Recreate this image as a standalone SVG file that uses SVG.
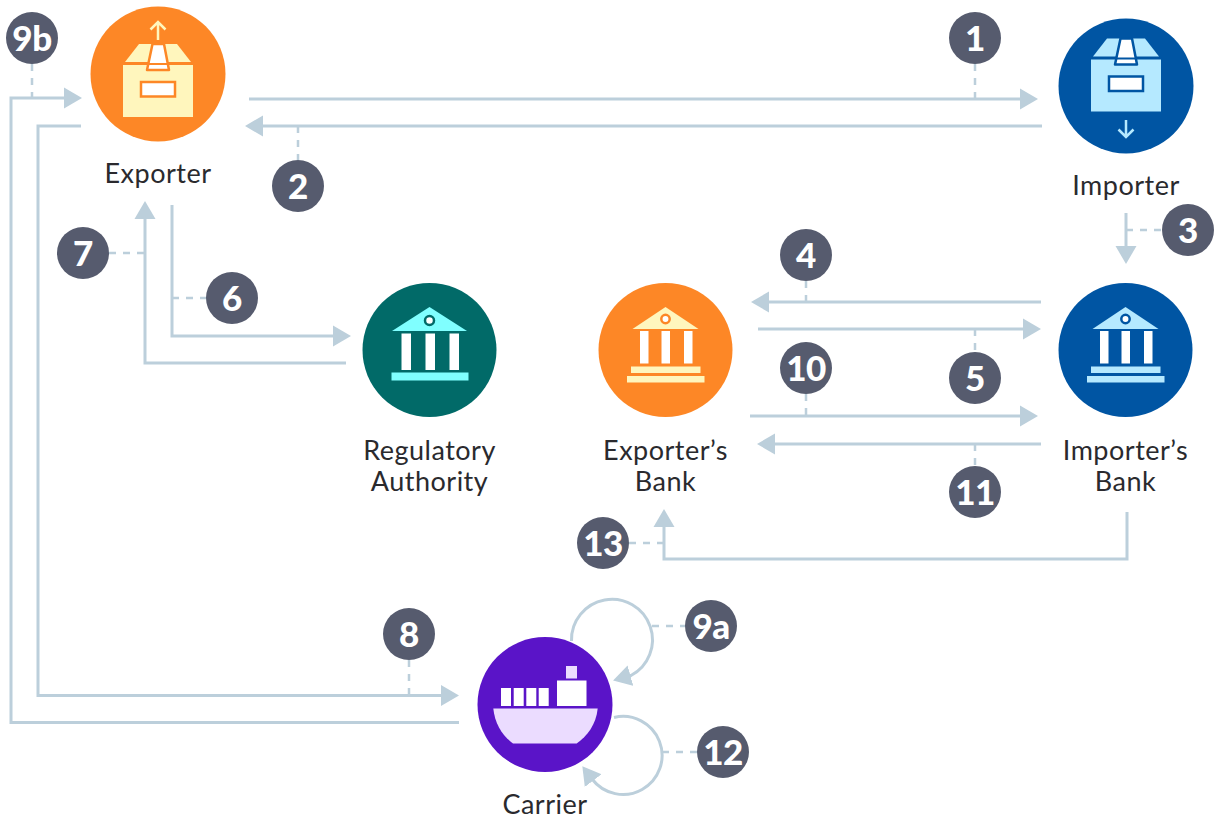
<svg xmlns="http://www.w3.org/2000/svg" width="1219" height="820" viewBox="0 0 1219 820">
<style>
.lbl{font-family:"Lato","Noto Sans",sans-serif;font-size:27px;letter-spacing:.5px;fill:#2a2a2e;text-anchor:middle}
.num{font-family:"Lato","Noto Sans",sans-serif;font-size:35px;font-weight:900;letter-spacing:-.5px;fill:#fff;text-anchor:middle}
.bad{fill:#565b6e}
.c{fill:none;stroke:#bccfdb;stroke-width:3;marker-end:url(#a)}
.d{fill:none;stroke:#bccfdb;stroke-width:2.5;stroke-dasharray:7 7}
</style>
<defs>
<marker id="a" markerUnits="userSpaceOnUse" markerWidth="18" markerHeight="22" viewBox="0 0 18 22" refX="2" refY="11" orient="auto"><path d="M0 0.5L18 11L0 21.500Z" fill="#bccfdb"/></marker>
<g id="box">
<rect x="-35" y="0" width="70" height="52" fill="var(--l)"/>
<path d="M-19-21H19L33-3H-33Z" fill="var(--l)"/>
<path d="M-5.500-21H6L11 5H-11Z" fill="#fff" stroke="var(--b)" stroke-width="2.500" stroke-linejoin="round"/>
<path d="M-11-1H11" stroke="var(--b)" stroke-width="2"/>
<rect x="-17" y="17" width="34" height="14.500" fill="#fff" stroke="var(--b)" stroke-width="2.500"/>
</g>
<g id="bank">
<path d="M0-43L33-21H-33Z" fill="var(--l)"/>
<circle cx="0" cy="-31" r="4.200" fill="#fff" stroke="var(--b)" stroke-width="2.500"/>
<rect x="-25.500" y="-19" width="8.500" height="32.500" fill="#fff"/>
<rect x="-4" y="-19" width="8.500" height="32.500" fill="#fff"/>
<rect x="18.500" y="-19" width="8.500" height="32.500" fill="#fff"/>
<rect x="-34.500" y="16.500" width="69.500" height="6.500" fill="var(--l)"/>
<rect x="-38.500" y="26" width="77.500" height="6.500" fill="var(--l)"/>
</g>
</defs>
<g id="connectors">
<path class="c" d="M249 99H1022"/>
<path class="c" d="M1042 126H261"/>
<path class="c" d="M1126 213V248"/>
<path class="c" d="M1041 302H767"/>
<path class="c" d="M758 329H1025"/>
<path class="c" d="M172 205V336H335"/>
<path class="c" d="M346 363H145V217"/>
<path class="c" d="M81 126H38V695.500H443"/>
<path class="c" d="M459 722.500H11V98H66"/>
<path class="c" d="M750 416H1022"/>
<path class="c" d="M1041 444H773"/>
<path class="c" d="M1127 512V559H664V525"/>
<path class="c" d="M571.500 641A40.500 40.500 0 1 1 631 675.500L628.500 676.200"/>
<path class="c" d="M614 717.500A39 39 0 1 1 592 779"/>
<path class="d" d="M975 64V99"/>
<path class="d" d="M298 126V160"/>
<path class="d" d="M1126 230H1162"/>
<path class="d" d="M806 281V302"/>
<path class="d" d="M975 329V352"/>
<path class="d" d="M172 298H206"/>
<path class="d" d="M109 253H145"/>
<path class="d" d="M409 660V695"/>
<path class="d" d="M652 626H685"/>
<path class="d" d="M32 64V98"/>
<path class="d" d="M806 394V416"/>
<path class="d" d="M975 444V466"/>
<path class="d" d="M662 752H697"/>
<path class="d" d="M629 543H664"/>
</g>
<g id="exporter">
<circle cx="158" cy="74" r="67.500" fill="#fd8726"/>
<use href="#box" x="158" y="65" style="--l:#fff6bd;--b:#fd8726"/>
<path d="M158 40V22M150.500 29.500L158 22L165.500 29.500" fill="none" stroke="#fff6bd" stroke-width="2.500"/>
<text class="lbl" x="158" y="183">Exporter</text>
</g>
<g id="importer">
<circle cx="1126" cy="86" r="67.500" fill="#0055a3"/>
<use href="#box" x="1126" y="59.500" style="--l:#b5e9ff;--b:#0055a3"/>
<path d="M1126 120V137M1118.500 129.500L1126 137L1133.500 129.500" fill="none" stroke="#b5e9ff" stroke-width="2.500"/>
<text class="lbl" x="1126" y="195">Importer</text>
</g>
<g id="regulatory-authority">
<circle cx="429.500" cy="350" r="67" fill="#016a68"/>
<path d="M429.500 307L467 331H392Z" fill="#80ffff"/>
<circle cx="429.500" cy="320.500" r="4.500" fill="#fff" stroke="#016a68" stroke-width="2.500"/>
<rect x="401.500" y="333.500" width="9.500" height="36.500" fill="#fff"/>
<rect x="425.500" y="333.500" width="9.500" height="36.500" fill="#fff"/>
<rect x="449.500" y="333.500" width="9.500" height="36.500" fill="#fff"/>
<rect x="391.500" y="372.500" width="77" height="8" fill="#80ffff"/>
<text class="lbl" x="429.500" y="460">Regulatory</text>
<text class="lbl" x="429.500" y="491">Authority</text>
</g>
<g id="exporters-bank">
<circle cx="665.500" cy="350" r="67" fill="#fd8726"/>
<use href="#bank" x="665.500" y="350" style="--l:#fff6bd;--b:#fd8726"/>
<text class="lbl" x="665.500" y="460">Exporter’s</text>
<text class="lbl" x="665.500" y="491">Bank</text>
</g>
<g id="importers-bank">
<circle cx="1125.500" cy="350" r="67" fill="#0055a3"/>
<use href="#bank" x="1125.500" y="350" style="--l:#b5e9ff;--b:#0055a3"/>
<text class="lbl" x="1125.500" y="460">Importer’s</text>
<text class="lbl" x="1125.500" y="491">Bank</text>
</g>
<g id="carrier">
<circle cx="545" cy="704.500" r="67.500" fill="#5a14c8"/>
<rect x="501" y="688" width="10" height="18" fill="#fff"/>
<rect x="513.700" y="688" width="10" height="18" fill="#fff"/>
<rect x="526.300" y="688" width="10" height="18" fill="#fff"/>
<rect x="538.700" y="688" width="10" height="18" fill="#fff"/>
<rect x="557" y="680.500" width="29.500" height="25.500" fill="#fff"/>
<rect x="566" y="666" width="11" height="12.500" fill="#ebdcff"/>
<path d="M493.300 708.500H597.700C596 725 587 736 576.700 743.500H513C503 736 495 725 493.300 708.500Z" fill="#ebdcff"/>
<text class="lbl" x="545" y="813.500">Carrier</text>
</g>
<g id="b1"><circle class="bad" cx="975" cy="38" r="26"/><text class="num" x="975" y="50.500">1</text></g>
<g id="b2"><circle class="bad" cx="298" cy="186" r="26"/><text class="num" x="298" y="198.500">2</text></g>
<g id="b3"><circle class="bad" cx="1188" cy="230" r="26"/><text class="num" x="1188" y="242.500">3</text></g>
<g id="b4"><circle class="bad" cx="806" cy="255" r="26"/><text class="num" x="806" y="267.500">4</text></g>
<g id="b5"><circle class="bad" cx="975" cy="378" r="26"/><text class="num" x="975" y="390.500">5</text></g>
<g id="b6"><circle class="bad" cx="232" cy="298" r="26"/><text class="num" x="232" y="310.500">6</text></g>
<g id="b7"><circle class="bad" cx="83" cy="253" r="26"/><text class="num" x="83" y="265.500">7</text></g>
<g id="b8"><circle class="bad" cx="409" cy="634" r="26"/><text class="num" x="409" y="646.500">8</text></g>
<g id="b9a"><circle class="bad" cx="711" cy="626" r="26"/><text class="num" x="711" y="638.500">9a</text></g>
<g id="b9b"><circle class="bad" cx="32" cy="38" r="26"/><text class="num" x="32" y="50.500">9b</text></g>
<g id="b10"><circle class="bad" cx="806" cy="368" r="26"/><text class="num" x="806" y="380.500">10</text></g>
<g id="b11"><circle class="bad" cx="975" cy="492" r="26"/><text class="num" x="975" y="504.500">11</text></g>
<g id="b12"><circle class="bad" cx="723" cy="752" r="26"/><text class="num" x="723" y="764.500">12</text></g>
<g id="b13"><circle class="bad" cx="603" cy="543" r="26"/><text class="num" x="603" y="555.500">13</text></g>
</svg>
